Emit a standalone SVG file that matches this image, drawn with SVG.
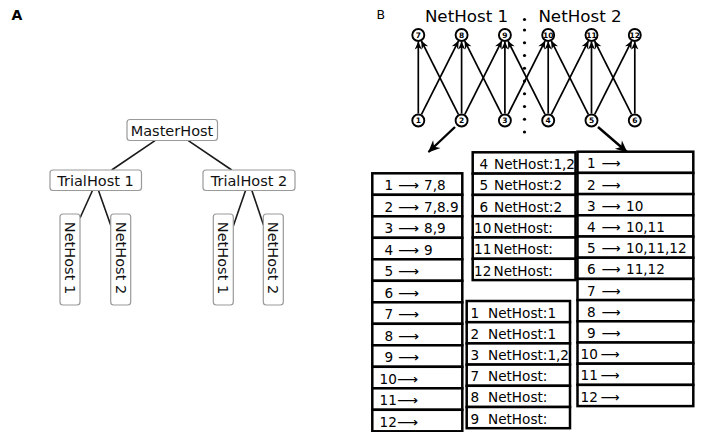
<svg xmlns="http://www.w3.org/2000/svg" width="701" height="432" viewBox="0 0 701 432">
<style>
.lbl{font-family:"DejaVu Sans",sans-serif;fill:#000}
.abox{fill:#fff;stroke:#9a9a9a;stroke-width:1.2}
.atxt{font-family:"DejaVu Sans",sans-serif;font-size:14.5px;fill:#111}
.aln{stroke:#1a1a1a;stroke-width:1.6;fill:none}
.nd{fill:#fff;stroke:#000;stroke-width:1.9}
.ndt{font-family:"DejaVu Sans",sans-serif;font-size:7.5px;font-weight:bold;text-anchor:middle;fill:#000}
.ed{stroke:#000;stroke-width:1.7;fill:none;marker-end:url(#ah)}
.big{stroke:#000;stroke-width:2.4;fill:none;marker-end:url(#ahb)}
.row{fill:#fff;stroke:#000;stroke-width:2.5}
.tt{font-family:"DejaVu Sans",sans-serif;font-size:13.6px;fill:#000}
.dot{fill:#000}
</style>
<defs>
<marker id="ah" markerUnits="userSpaceOnUse" viewBox="0 0 10 10" refX="9.5" refY="5" markerWidth="9" markerHeight="8" orient="auto">
<path d="M0,0.5 L10,5 L0,9.5 L3,5 z" fill="#000"/>
</marker>
<marker id="ahb" markerUnits="userSpaceOnUse" viewBox="0 0 10 10" refX="9.5" refY="5" markerWidth="13" markerHeight="12" orient="auto">
<path d="M0,0.5 L10,5 L0,9.5 L3,5 z" fill="#000"/>
</marker>
</defs>
<rect width="701" height="432" fill="#fff"/>

<!-- Panel A -->
<text class="lbl" x="11.5" y="20" style="font-size:14px;font-weight:bold">A</text>
<g id="a-connectors">
<line class="aln" x1="155" y1="140.7" x2="111.7" y2="170"/>
<line class="aln" x1="188.3" y1="140.7" x2="231.7" y2="170"/>
<line class="aln" x1="92.7" y1="190" x2="80" y2="218"/>
<line class="aln" x1="98.3" y1="190" x2="111" y2="226"/>
<line class="aln" x1="245.7" y1="190" x2="233.3" y2="226"/>
<line class="aln" x1="251.7" y1="190" x2="263.5" y2="225"/>
</g>
<g id="masterhost"><rect class="abox" x="127" y="119.5" width="90.5" height="21" rx="3"/><text class="atxt" x="172" y="136.3" text-anchor="middle">MasterHost</text></g>
<g id="trialhost1"><rect class="abox" x="50" y="170" width="91.5" height="20.5" rx="3"/><text class="atxt" x="95.5" y="186.3" text-anchor="middle">TrialHost 1</text></g>
<g id="trialhost2"><rect class="abox" x="203" y="170" width="92" height="20.5" rx="3"/><text class="atxt" x="249" y="186.3" text-anchor="middle">TrialHost 2</text></g>
<g id="t1-nethost1"><rect class="abox" x="60" y="214" width="20" height="91" rx="3"/><text class="atxt" transform="translate(64.8,258) rotate(90)" text-anchor="middle">NetHost 1</text></g>
<g id="t1-nethost2"><rect class="abox" x="110.7" y="214" width="20" height="91" rx="3"/><text class="atxt" transform="translate(115.5,258) rotate(90)" text-anchor="middle">NetHost 2</text></g>
<g id="t2-nethost1"><rect class="abox" x="213.3" y="214" width="20" height="91" rx="3"/><text class="atxt" transform="translate(218.1,258) rotate(90)" text-anchor="middle">NetHost 1</text></g>
<g id="t2-nethost2"><rect class="abox" x="263.3" y="214" width="20" height="91" rx="3"/><text class="atxt" transform="translate(268.1,258) rotate(90)" text-anchor="middle">NetHost 2</text></g>

<!-- Panel B -->
<text class="lbl" x="376.5" y="18.5" style="font-size:12.5px">B</text>
<text class="lbl" x="466.5" y="21.5" text-anchor="middle" style="font-size:16.7px">NetHost 1</text>
<text class="lbl" x="580" y="21.5" text-anchor="middle" style="font-size:16.7px">NetHost 2</text>
<g id="divider">
<circle class="dot" cx="524.5" cy="19.5" r="1.6"/>
<circle class="dot" cx="524.5" cy="30" r="1.6"/>
<circle class="dot" cx="524.5" cy="42.75" r="1.6"/>
<circle class="dot" cx="524.5" cy="55.5" r="1.6"/>
<circle class="dot" cx="524.5" cy="68.25" r="1.6"/>
<circle class="dot" cx="524.5" cy="81" r="1.6"/>
<circle class="dot" cx="524.5" cy="93.75" r="1.6"/>
<circle class="dot" cx="524.5" cy="106.5" r="1.6"/>
<circle class="dot" cx="524.5" cy="119.25" r="1.6"/>
<circle class="dot" cx="524.5" cy="132" r="1.6"/>
</g>
<g id="b-connectors">
<line class="ed" x1="418.3" y1="113.5" x2="418.3" y2="42"/>
<line class="ed" x1="421.5" y1="114.3" x2="458.4" y2="41.2"/>
<line class="ed" x1="458.4" y1="114.3" x2="421.5" y2="41.2"/>
<line class="ed" x1="461.6" y1="113.5" x2="461.6" y2="42"/>
<line class="ed" x1="464.8" y1="114.3" x2="501.7" y2="41.2"/>
<line class="ed" x1="501.7" y1="114.3" x2="464.8" y2="41.2"/>
<line class="ed" x1="504.9" y1="113.5" x2="504.9" y2="42"/>
<line class="ed" x1="508.1" y1="114.3" x2="545" y2="41.2"/>
<line class="ed" x1="545" y1="114.3" x2="508.1" y2="41.2"/>
<line class="ed" x1="548.2" y1="113.5" x2="548.2" y2="42"/>
<line class="ed" x1="551.4" y1="114.3" x2="588.3" y2="41.2"/>
<line class="ed" x1="588.3" y1="114.3" x2="551.4" y2="41.2"/>
<line class="ed" x1="591.5" y1="113.5" x2="591.5" y2="42"/>
<line class="ed" x1="594.7" y1="114.3" x2="631.6" y2="41.2"/>
<line class="ed" x1="631.6" y1="114.3" x2="594.7" y2="41.2"/>
<line class="ed" x1="634.8" y1="113.5" x2="634.8" y2="42"/>
<line class="big" x1="455" y1="127" x2="428.5" y2="152"/>
<line class="big" x1="598" y1="127" x2="627" y2="152"/>
</g>
<g id="n7"><circle class="nd" cx="418.3" cy="35" r="6"/><text class="ndt" x="418.3" y="37.7">7</text></g>
<g id="n8"><circle class="nd" cx="461.6" cy="35" r="6"/><text class="ndt" x="461.6" y="37.7">8</text></g>
<g id="n9"><circle class="nd" cx="504.9" cy="35" r="6"/><text class="ndt" x="504.9" y="37.7">9</text></g>
<g id="n10"><circle class="nd" cx="548.2" cy="35" r="6"/><text class="ndt" x="548.2" y="37.7">10</text></g>
<g id="n11"><circle class="nd" cx="591.5" cy="35" r="6"/><text class="ndt" x="591.5" y="37.7">11</text></g>
<g id="n12"><circle class="nd" cx="634.8" cy="35" r="6"/><text class="ndt" x="634.8" y="37.7">12</text></g>
<g id="n1"><circle class="nd" cx="418.3" cy="120.5" r="6"/><text class="ndt" x="418.3" y="123.2">1</text></g>
<g id="n2"><circle class="nd" cx="461.6" cy="120.5" r="6"/><text class="ndt" x="461.6" y="123.2">2</text></g>
<g id="n3"><circle class="nd" cx="504.9" cy="120.5" r="6"/><text class="ndt" x="504.9" y="123.2">3</text></g>
<g id="n4"><circle class="nd" cx="548.2" cy="120.5" r="6"/><text class="ndt" x="548.2" y="123.2">4</text></g>
<g id="n5"><circle class="nd" cx="591.5" cy="120.5" r="6"/><text class="ndt" x="591.5" y="123.2">5</text></g>
<g id="n6"><circle class="nd" cx="634.8" cy="120.5" r="6"/><text class="ndt" x="634.8" y="123.2">6</text></g>

<!-- Left table: NetHost 1 edges -->
<g id="table-left">
<rect class="row" x="372.3" y="173.3" width="90" height="21.5"/>
<rect class="row" x="372.3" y="194.8" width="90" height="21.5"/>
<rect class="row" x="372.3" y="216.3" width="90" height="21.5"/>
<rect class="row" x="372.3" y="237.8" width="90" height="21.5"/>
<rect class="row" x="372.3" y="259.3" width="90" height="21.5"/>
<rect class="row" x="372.3" y="280.8" width="90" height="21.5"/>
<rect class="row" x="372.3" y="302.3" width="90" height="21.5"/>
<rect class="row" x="372.3" y="323.8" width="90" height="21.5"/>
<rect class="row" x="372.3" y="345.3" width="90" height="21.5"/>
<rect class="row" x="372.3" y="366.8" width="90" height="21.5"/>
<rect class="row" x="372.3" y="388.3" width="90" height="21.5"/>
<rect class="row" x="372.3" y="409.8" width="90" height="21.5"/>
<text class="tt" y="190"><tspan x="384.5">1</tspan> <tspan x="398" textLength="21" lengthAdjust="spacingAndGlyphs">⟶</tspan> <tspan x="424">7,8</tspan></text>
<text class="tt" y="211.5"><tspan x="384.5">2</tspan> <tspan x="398" textLength="21" lengthAdjust="spacingAndGlyphs">⟶</tspan> <tspan x="424">7,8.9</tspan></text>
<text class="tt" y="233"><tspan x="384.5">3</tspan> <tspan x="398" textLength="21" lengthAdjust="spacingAndGlyphs">⟶</tspan> <tspan x="424">8,9</tspan></text>
<text class="tt" y="254.5"><tspan x="384.5">4</tspan> <tspan x="398" textLength="21" lengthAdjust="spacingAndGlyphs">⟶</tspan> <tspan x="424">9</tspan></text>
<text class="tt" y="276"><tspan x="384.5">5</tspan> <tspan x="398" textLength="21" lengthAdjust="spacingAndGlyphs">⟶</tspan></text>
<text class="tt" y="297.5"><tspan x="384.5">6</tspan> <tspan x="398" textLength="21" lengthAdjust="spacingAndGlyphs">⟶</tspan></text>
<text class="tt" y="319"><tspan x="384.5">7</tspan> <tspan x="398" textLength="21" lengthAdjust="spacingAndGlyphs">⟶</tspan></text>
<text class="tt" y="340.5"><tspan x="384.5">8</tspan> <tspan x="398" textLength="21" lengthAdjust="spacingAndGlyphs">⟶</tspan></text>
<text class="tt" y="362"><tspan x="384.5">9</tspan> <tspan x="398" textLength="21" lengthAdjust="spacingAndGlyphs">⟶</tspan></text>
<text class="tt" y="383.5"><tspan x="379.5">10</tspan> <tspan x="397" textLength="21" lengthAdjust="spacingAndGlyphs">⟶</tspan></text>
<text class="tt" y="405"><tspan x="379.5">11</tspan> <tspan x="397" textLength="21" lengthAdjust="spacingAndGlyphs">⟶</tspan></text>
<text class="tt" y="426.5"><tspan x="379.5">12</tspan> <tspan x="397" textLength="21" lengthAdjust="spacingAndGlyphs">⟶</tspan></text>
</g>

<!-- Middle top table -->
<g id="table-mid-top">
<rect class="row" x="472.7" y="152.3" width="102.8" height="21.3"/>
<rect class="row" x="472.7" y="173.6" width="102.8" height="21.3"/>
<rect class="row" x="472.7" y="194.9" width="102.8" height="21.3"/>
<rect class="row" x="472.7" y="216.2" width="102.8" height="21.3"/>
<rect class="row" x="472.7" y="237.5" width="102.8" height="21.3"/>
<rect class="row" x="472.7" y="258.8" width="102.8" height="21.3"/>
<text class="tt" y="169"><tspan x="479.5">4</tspan> <tspan x="494">NetHost:1,2</tspan></text>
<text class="tt" y="190.3"><tspan x="479.5">5</tspan> <tspan x="494">NetHost:2</tspan></text>
<text class="tt" y="211.6"><tspan x="479.5">6</tspan> <tspan x="494">NetHost:2</tspan></text>
<text class="tt" y="232.9"><tspan x="474">10</tspan> <tspan x="493.5">NetHost:</tspan></text>
<text class="tt" y="254.2"><tspan x="474">11</tspan> <tspan x="493.5">NetHost:</tspan></text>
<text class="tt" y="275.5"><tspan x="474">12</tspan> <tspan x="493.5">NetHost:</tspan></text>
</g>

<!-- Middle bottom table -->
<g id="table-mid-bottom">
<rect class="row" x="466.7" y="301" width="103.3" height="21.2"/>
<rect class="row" x="466.7" y="322.2" width="103.3" height="21.2"/>
<rect class="row" x="466.7" y="343.4" width="103.3" height="21.2"/>
<rect class="row" x="466.7" y="364.6" width="103.3" height="21.2"/>
<rect class="row" x="466.7" y="385.8" width="103.3" height="21.2"/>
<rect class="row" x="466.7" y="407" width="103.3" height="21.2"/>
<text class="tt" y="317.6"><tspan x="470.5">1</tspan> <tspan x="488">NetHost:1</tspan></text>
<text class="tt" y="338.8"><tspan x="470.5">2</tspan> <tspan x="488">NetHost:1</tspan></text>
<text class="tt" y="360"><tspan x="470.5">3</tspan> <tspan x="488">NetHost:1,2</tspan></text>
<text class="tt" y="381.2"><tspan x="470.5">7</tspan> <tspan x="488">NetHost:</tspan></text>
<text class="tt" y="402.4"><tspan x="470.5">8</tspan> <tspan x="488">NetHost:</tspan></text>
<text class="tt" y="423.6"><tspan x="470.5">9</tspan> <tspan x="488">NetHost:</tspan></text>
</g>

<!-- Right table: NetHost 2 edges -->
<g id="table-right">
<rect class="row" x="577.5" y="151.7" width="115.8" height="21.2"/>
<rect class="row" x="577.5" y="172.9" width="115.8" height="21.2"/>
<rect class="row" x="577.5" y="194.1" width="115.8" height="21.2"/>
<rect class="row" x="577.5" y="215.3" width="115.8" height="21.2"/>
<rect class="row" x="577.5" y="236.5" width="115.8" height="21.2"/>
<rect class="row" x="577.5" y="257.7" width="115.8" height="21.2"/>
<rect class="row" x="577.5" y="278.9" width="115.8" height="21.2"/>
<rect class="row" x="577.5" y="300.1" width="115.8" height="21.2"/>
<rect class="row" x="577.5" y="321.3" width="115.8" height="21.2"/>
<rect class="row" x="577.5" y="342.5" width="115.8" height="21.2"/>
<rect class="row" x="577.5" y="363.7" width="115.8" height="21.2"/>
<rect class="row" x="577.5" y="384.9" width="115.8" height="21.2"/>
<text class="tt" y="168.3"><tspan x="587">1</tspan> <tspan x="601.5" textLength="19" lengthAdjust="spacingAndGlyphs">⟶</tspan></text>
<text class="tt" y="189.5"><tspan x="587">2</tspan> <tspan x="601.5" textLength="19" lengthAdjust="spacingAndGlyphs">⟶</tspan></text>
<text class="tt" y="210.7"><tspan x="587">3</tspan> <tspan x="601.5" textLength="19" lengthAdjust="spacingAndGlyphs">⟶</tspan> <tspan x="626">10</tspan></text>
<text class="tt" y="231.9"><tspan x="587">4</tspan> <tspan x="601.5" textLength="19" lengthAdjust="spacingAndGlyphs">⟶</tspan> <tspan x="626">10,11</tspan></text>
<text class="tt" y="253.1"><tspan x="587">5</tspan> <tspan x="601.5" textLength="19" lengthAdjust="spacingAndGlyphs">⟶</tspan> <tspan x="626">10,11,12</tspan></text>
<text class="tt" y="274.3"><tspan x="587">6</tspan> <tspan x="601.5" textLength="19" lengthAdjust="spacingAndGlyphs">⟶</tspan> <tspan x="626">11,12</tspan></text>
<text class="tt" y="295.5"><tspan x="587">7</tspan> <tspan x="601.5" textLength="19" lengthAdjust="spacingAndGlyphs">⟶</tspan></text>
<text class="tt" y="316.7"><tspan x="587">8</tspan> <tspan x="601.5" textLength="19" lengthAdjust="spacingAndGlyphs">⟶</tspan></text>
<text class="tt" y="337.9"><tspan x="587">9</tspan> <tspan x="601.5" textLength="19" lengthAdjust="spacingAndGlyphs">⟶</tspan></text>
<text class="tt" y="359.1"><tspan x="580.5">10</tspan> <tspan x="600.5" textLength="19" lengthAdjust="spacingAndGlyphs">⟶</tspan></text>
<text class="tt" y="380.3"><tspan x="580.5">11</tspan> <tspan x="600.5" textLength="19" lengthAdjust="spacingAndGlyphs">⟶</tspan></text>
<text class="tt" y="401.5"><tspan x="580.5">12</tspan> <tspan x="600.5" textLength="19" lengthAdjust="spacingAndGlyphs">⟶</tspan></text>
</g>
</svg>
